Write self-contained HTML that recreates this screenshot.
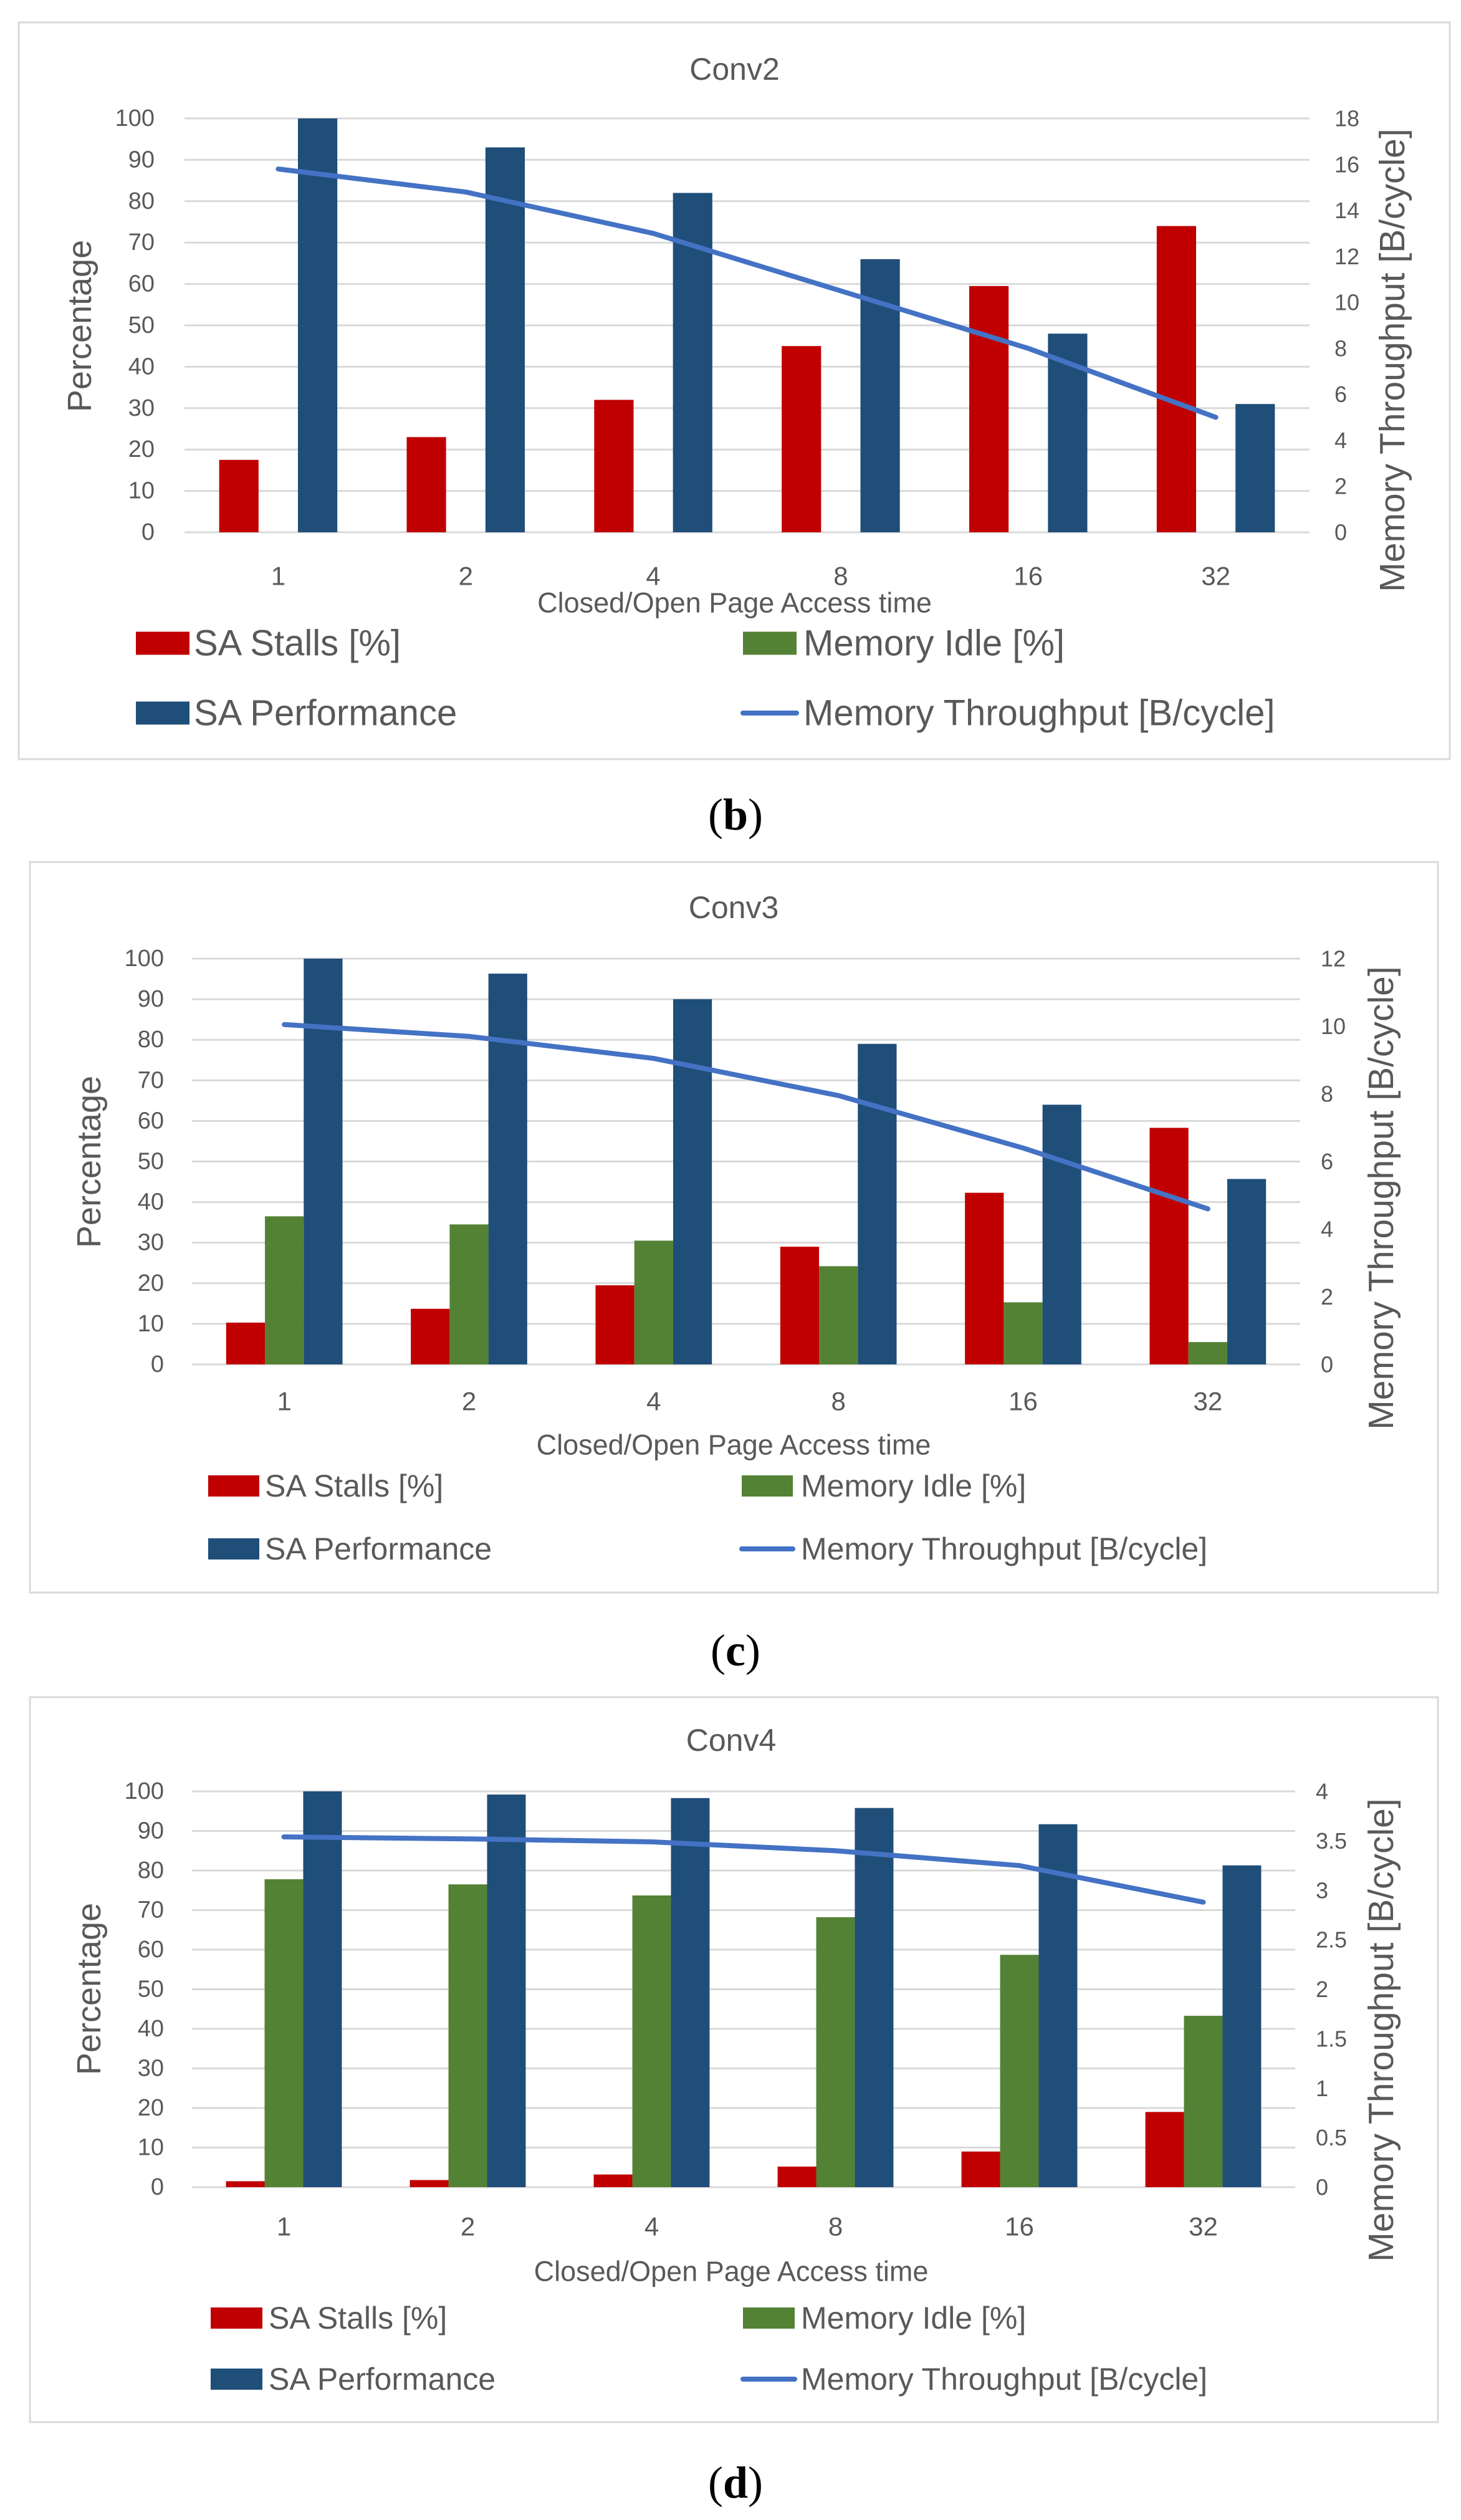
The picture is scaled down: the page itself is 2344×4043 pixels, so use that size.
<!DOCTYPE html>
<html><head><meta charset="utf-8"><style>
html,body{margin:0;padding:0;background:#fff;}
svg{display:block;font-family:"Liberation Sans",sans-serif;}
</style></head>
<body>
<svg id="fig" width="2344" height="4043" viewBox="0 0 2344 4043" xmlns="http://www.w3.org/2000/svg"></svg>
<script>
const categories = ["1","2","4","8","16","32"];
const conv2Stalls = [17.5,23,32,45,59.5,74];
const conv2Idle = [0,0,0,0,0,0];
const conv2Perf = [100,93,82,66,48,31];
const conv2Thr = [15.8,14.8,13,10.5,8,5];
const conv2RightTicks = ["0","2","4","6","8","10","12","14","16","18"];
const conv3Stalls = [10.3,13.7,19.5,29,42.3,58.3];
const conv3Idle = [36.5,34.5,30.5,24.2,15.3,5.5];
const conv3Perf = [100,96.3,90,79,64,45.7];
const conv3Thr = [10.05,9.7,9.05,7.95,6.4,4.6];
const conv3RightTicks = ["0","2","4","6","8","10","12"];
const conv4Stalls = [1.5,1.8,3.2,5.2,9,19];
const conv4Idle = [77.8,76.5,73.7,68.2,58.7,43.3];
const conv4Perf = [100,99.2,98.3,95.8,91.7,81.3];
const conv4Thr = [3.54,3.52,3.49,3.4,3.25,2.88];
const conv4RightTicks = ["0","0.5","1","1.5","2","2.5","3","3.5","4"];
const leftTicks = ["0","10","20","30","40","50","60","70","80","90","100"];

const NS="http://www.w3.org/2000/svg";
const svg=document.getElementById('fig');
function mk(tag,attrs,parent,text){const e=document.createElementNS(NS,tag);for(const k in attrs)e.setAttribute(k,attrs[k]);if(text!==undefined)e.textContent=text;(parent||svg).appendChild(e);return e;}

const layouts=[
 {name:'conv2',title:'Conv2',caption:'b',stalls:conv2Stalls,idle:conv2Idle,perf:conv2Perf,thr:conv2Thr,rticks:conv2RightTicks,rmax:18,
  frame:[30,36,2296,1182],titleY:111,top:190,bot:854,x0:296,x1:2101,lTickX:248,rTickX:2141,tickFs:38,
  pctX:128,pctY:523,rtX:2234,rtY:578,xTickY:924,xTitleY:967,
  legY1:1032,legY2:1144,sw1:218,tx1:311,sw2:1192,tx2:1289,swW:86,swH:37,legFs:58,capY:1307},
 {name:'conv3',title:'Conv3',caption:'c',stalls:conv3Stalls,idle:conv3Idle,perf:conv3Perf,thr:conv3Thr,rticks:conv3RightTicks,rmax:12,
  frame:[48,1383,2259,1172],titleY:1456,top:1538,bot:2189,x0:308,x1:2086,lTickX:263,rTickX:2119,tickFs:38,
  pctX:143,pctY:1864,rtX:2216,rtY:1922,xTickY:2248,xTitleY:2318,
  legY1:2384,legY2:2485,sw1:334,tx1:425,sw2:1190,tx2:1285,swW:82,swH:34,legFs:50,capY:2648},
 {name:'conv4',title:'Conv4',caption:'d',stalls:conv4Stalls,idle:conv4Idle,perf:conv4Perf,thr:conv4Thr,rticks:conv4RightTicks,rmax:4,
  frame:[48,2723,2259,1163],titleY:2792,top:2874,bot:3509,x0:308,x1:2078,lTickX:263,rTickX:2111,tickFs:38,
  pctX:143,pctY:3191,rtX:2216,rtY:3257,xTickY:3572,xTitleY:3644,
  legY1:3719,legY2:3817,sw1:338,tx1:431,sw2:1192,tx2:1285,swW:83,swH:34,legFs:50,capY:3983}
];

layouts.forEach(L=>{
  const g=mk('g',{});
  
  
  const fr=mk('rect',{x:L.frame[0],y:L.frame[1],width:L.frame[2],height:L.frame[3],fill:'#fff',stroke:'#d9d9d9','stroke-width':3},g);
  
  
  const t=mk('text',{x:(L.x0+L.x1)/2-20,y:L.titleY,'text-anchor':'middle','dominant-baseline':'central','font-size':50,fill:'#595959'},g,L.title);
  
  
  const yL=v=>L.bot-(v/100)*(L.bot-L.top);
  const yR=v=>L.bot-(v/L.rmax)*(L.bot-L.top);
  const step=(L.x1-L.x0)/categories.length;
  const xC=i=>L.x0+step*(i+0.5);
  leftTicks.forEach(tk=>{
    const v=+tk,y=yL(v);
    const gl=mk('line',{x1:L.x0,x2:L.x1,y1:y,y2:y,stroke:'#d9d9d9','stroke-width':3},g);
    
    
    const tl=mk('text',{x:L.lTickX,y:y,'text-anchor':'end','dominant-baseline':'central','font-size':L.tickFs,fill:'#595959'},g,tk);
    
    
  });
  L.rticks.forEach(tk=>{
    const tl=mk('text',{x:L.rTickX,y:yR(+tk),'text-anchor':'start','dominant-baseline':'central','font-size':L.tickFs-2,fill:'#595959'},g,tk);
    
    
  });
  const bw=step*0.21;
  const series=[[L.stalls,'#c00000','bar-stalls',-1],[L.idle,'#548235','bar-idle',0],[L.perf,'#1f4e79','bar-perf',1]];
  categories.forEach((c,i)=>{
    series.forEach(s=>{
      const v=s[0][i]; if(v<=0) return;
      const cx=xC(i)+s[3]*bw;
      const r=mk('rect',{x:cx-bw/2,y:yL(v),width:bw,height:yL(0)-yL(v),fill:s[1]},g);
      
      
    });
    const xl=mk('text',{x:xC(i),y:L.xTickY,'text-anchor':'middle','dominant-baseline':'central','font-size':L.tickFs+4,fill:'#595959'},g,c);
    
    
  });
  const pts=L.thr.map((v,i)=>xC(i)+','+yR(v)).join(' ');
  const pl=mk('polyline',{points:pts,fill:'none',stroke:'#4472c4','stroke-width':8,'stroke-linejoin':'round','stroke-linecap':'round'},g);
  
  
  const xt=mk('text',{x:(L.x0+L.x1)/2-20,y:L.xTitleY,'text-anchor':'middle','dominant-baseline':'central','font-size':45,fill:'#595959'},g,'Closed/Open Page Access time');
  
  
  const pt=mk('text',{x:0,y:0,'text-anchor':'middle','dominant-baseline':'central','font-size':54,fill:'#595959',transform:`translate(${L.pctX},${L.pctY}) rotate(-90)`},g,'Percentage');
  
  
  const rt=mk('text',{x:0,y:0,'text-anchor':'middle','dominant-baseline':'central','font-size':57,fill:'#595959',transform:`translate(${L.rtX},${L.rtY}) rotate(-90)`},g,'Memory Throughput [B/cycle]');
  
  
  const leg=[[L.sw1,L.tx1,L.legY1,'#c00000','SA Stalls [%]','legend-stalls',0],
             [L.sw2,L.tx2,L.legY1,'#548235','Memory Idle [%]','legend-idle',0],
             [L.sw1,L.tx1,L.legY2,'#1f4e79','SA Performance','legend-perf',0],
             [L.sw2,L.tx2,L.legY2,'#4472c4','Memory Throughput [B/cycle]','legend-throughput',1]];
  leg.forEach(e=>{
    const lg=mk('g',{},g);
    
    
    if(e[6]) mk('line',{x1:e[0],x2:e[0]+L.swW,y1:e[2],y2:e[2],stroke:e[3],'stroke-width':8,'stroke-linecap':'round'},lg);
    else mk('rect',{x:e[0],y:e[2]-L.swH/2,width:L.swW,height:L.swH,fill:e[3]},lg);
    mk('text',{x:e[1],y:e[2],'dominant-baseline':'central','font-size':L.legFs,fill:'#595959'},lg,e[4]);
  });
  const cap=mk('text',{x:1180,y:L.capY,'text-anchor':'middle','dominant-baseline':'central','font-size':72,fill:'#000','font-family':'Liberation Serif, serif'});
  
  
  mk('tspan',{},cap,'(');
  mk('tspan',{'font-weight':'bold'},cap,L.caption);
  mk('tspan',{},cap,')');
});
</script>
</body></html>
